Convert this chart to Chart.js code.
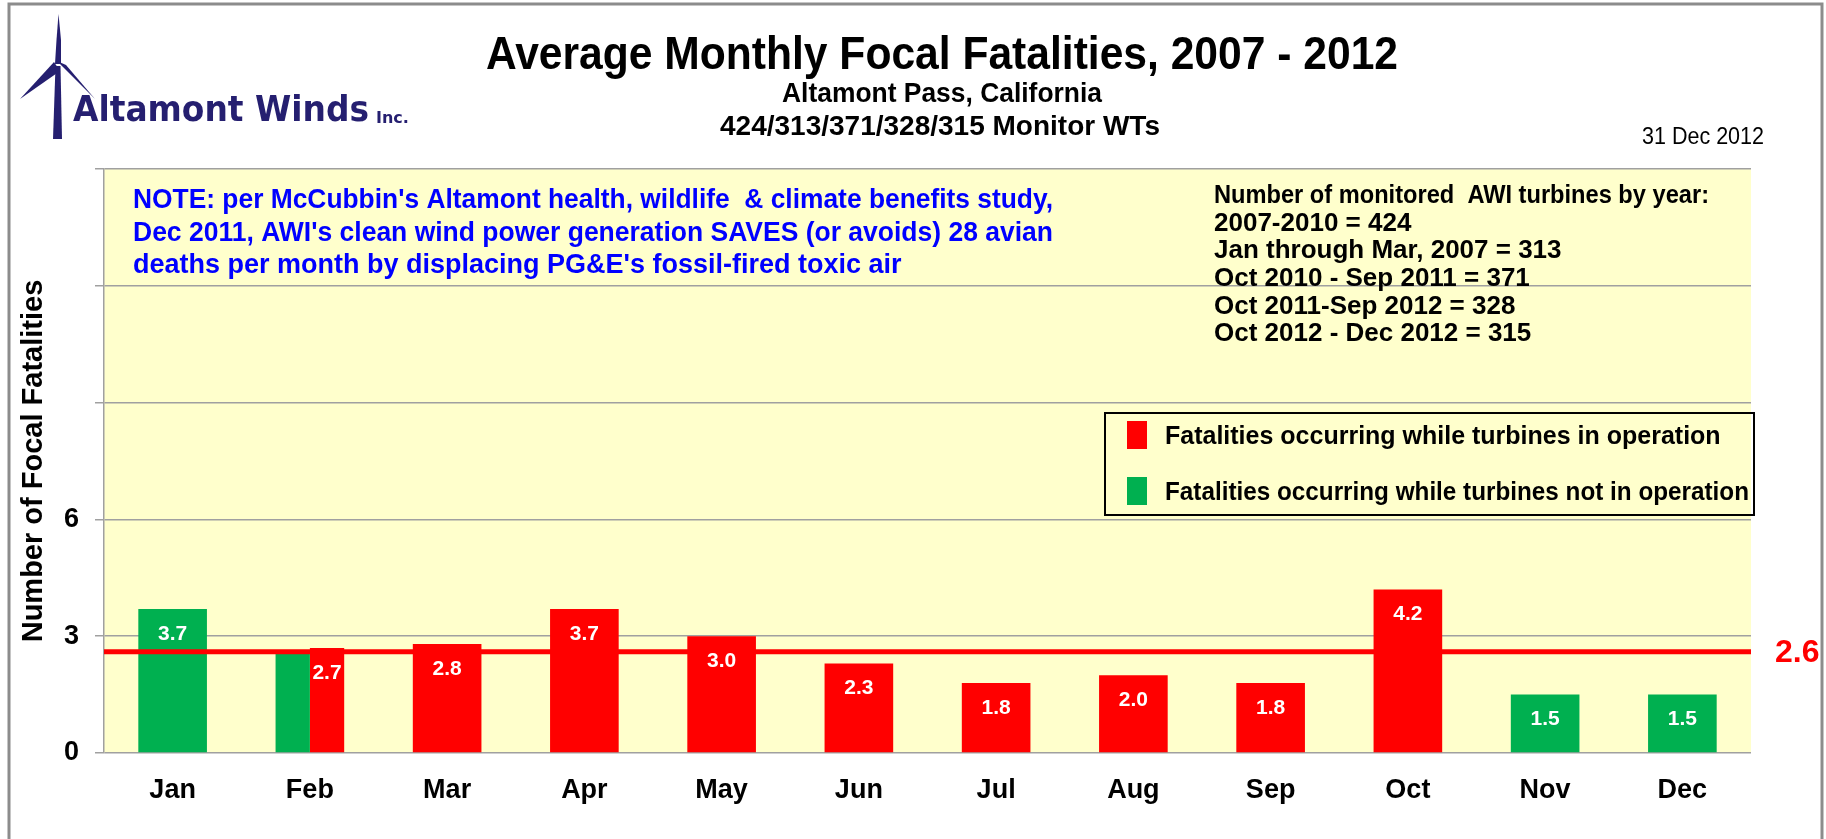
<!DOCTYPE html>
<html>
<head>
<meta charset="utf-8">
<title>Average Monthly Focal Fatalities, 2007 - 2012</title>
<script src="https://cdn.jsdelivr.net/npm/chart.js@4.4.0/dist/chart.umd.min.js"></script>
<style>
  html, body { margin: 0; padding: 0; background: #fff; }
  #wrap { width: 1826px; height: 839px; position: relative; }
</style>
</head>
<body>
<div id="wrap"><canvas id="chart"></canvas></div>
<script>
var months = ['Jan', 'Feb', 'Mar', 'Apr', 'May', 'Jun', 'Jul', 'Aug', 'Sep', 'Oct', 'Nov', 'Dec'];
var inOperation = [null, 2.7, 2.8, 3.7, 3.0, 2.3, 1.8, 2.0, 1.8, 4.2, null, null];
var notInOperation = [3.7, 2.6, null, null, null, null, null, null, null, null, 1.5, 1.5];
var averageFatalities = 2.6;
var yTickLabels = [0, 3, 6];

var titleText = 'Average Monthly Focal Fatalities, 2007 - 2012';
var subtitleLines = ['Altamont Pass, California', '424/313/371/328/315 Monitor WTs'];
var dateText = '31 Dec 2012';
var noteLines = [
    "NOTE: per McCubbin's Altamont health, wildlife  & climate benefits study,",
    "Dec 2011, AWI's clean wind power generation SAVES (or avoids) 28 avian",
    "deaths per month by displacing PG&E's fossil-fired toxic air"
];
var turbineLines = [
    'Number of monitored  AWI turbines by year:',
    '2007-2010 = 424',
    'Jan through Mar, 2007 = 313',
    'Oct 2010 - Sep 2011 = 371',
    'Oct 2011-Sep 2012 = 328',
    'Oct 2012 - Dec 2012 = 315'
];

var FONT = '"Liberation Sans", Arial, sans-serif';
var RED = '#FF0000';
var GREEN = '#00B050';
var NAVY = '#251F70';

function text(ctx, str, x, y, font, color, align, maxWidth) {
    ctx.font = font;
    ctx.fillStyle = color;
    ctx.textAlign = align || 'left';
    ctx.textBaseline = 'middle';
    if (maxWidth) ctx.fillText(str, x, y, maxWidth);
    else ctx.fillText(str, x, y);
}

function poly(ctx, pts) {
    ctx.beginPath();
    ctx.moveTo(pts[0][0], pts[0][1]);
    for (var i = 1; i < pts.length; i++) ctx.lineTo(pts[i][0], pts[i][1]);
    ctx.closePath();
    ctx.fill();
}

// yellow plot background
var plotBackground = {
    id: 'plotBackground',
    beforeDraw: function(chart) {
        var a = chart.chartArea, ctx = chart.ctx;
        ctx.save();
        ctx.fillStyle = '#FFFFCC';
        ctx.fillRect(a.left, a.top, a.right - a.left, a.bottom - a.top);
        ctx.restore();
    }
};

// average line + value labels inside the bars
var barExtras = {
    id: 'barExtras',
    afterDatasetsDraw: function(chart) {
        var ctx = chart.ctx, a = chart.chartArea;
        var y = chart.scales.y.getPixelForValue(averageFatalities);
        ctx.save();
        ctx.strokeStyle = RED;
        ctx.lineWidth = 5;
        ctx.beginPath();
        ctx.moveTo(a.left, y);
        ctx.lineTo(a.right, y);
        ctx.stroke();
        text(ctx, averageFatalities.toFixed(1), a.right + 24, y + 1, 'bold 32px ' + FONT, RED, 'left');

        chart.data.datasets.forEach(function(ds, di) {
            var meta = chart.getDatasetMeta(di);
            meta.data.forEach(function(bar, i) {
                var v = ds.data[i];
                if (v == null) return;
                // a split month only shows the total on its last bar
                var later = chart.data.datasets.some(function(o, oi) {
                    return oi > di && o.data[i] != null;
                });
                if (later) return;
                text(ctx, v.toFixed(1), bar.x, bar.y + 25, 'bold 21px ' + FONT, '#fff', 'center');
            });
        });
        ctx.restore();
    }
};

// header, logo, notes, legend and frame
var decorations = {
    id: 'decorations',
    afterDraw: function(chart) {
        var ctx = chart.ctx;
        ctx.save();

        // frame
        ctx.strokeStyle = '#8C8C8C';
        ctx.lineWidth = 3;
        ctx.beginPath();
        ctx.moveTo(9, 839); ctx.lineTo(9, 4); ctx.lineTo(1822, 4); ctx.lineTo(1822, 839);
        ctx.stroke();

        // logo
        ctx.fillStyle = NAVY;
        poly(ctx, [[58.5, 14], [61, 40], [61, 64], [55, 64], [56.5, 40]]);
        poly(ctx, [[54, 62], [60, 71], [20, 99]]);
        poly(ctx, [[57, 61], [66, 65], [95, 99]]);
        poly(ctx, [[55.5, 66], [60.5, 66], [62, 139], [53, 139]]);
        text(ctx, 'Altamont Winds', 73, 112, 'bold 35px "DejaVu Sans", sans-serif', NAVY, 'left', 296);
        text(ctx, 'Inc.', 376, 119, 'bold 16px "DejaVu Sans", sans-serif', NAVY, 'left');

        // titles
        text(ctx, titleText, 942, 56, 'bold 47px ' + FONT, '#000', 'center', 912);
        text(ctx, subtitleLines[0], 942, 94, 'bold 28px ' + FONT, '#000', 'center', 320);
        text(ctx, subtitleLines[1], 940, 127, 'bold 28px ' + FONT, '#000', 'center', 440);
        text(ctx, dateText, 1764, 138, '23px ' + FONT, '#000', 'right', 122);

        // notes inside the plot
        noteLines.forEach(function(s, i) {
            text(ctx, s, 133, 201 + i * 32.5, 'bold 27px ' + FONT, '#0000FF', 'left', 920);
        });
        turbineLines.forEach(function(s, i) {
            text(ctx, s, 1214, 196 + i * 27.6, 'bold 26px ' + FONT, '#000', 'left', 495);
        });

        // legend
        ctx.strokeStyle = '#000';
        ctx.lineWidth = 2;
        ctx.strokeRect(1105, 413, 649, 102);
        var items = chart.data.datasets.slice().reverse();
        items.forEach(function(ds, i) {
            var cy = 435 + i * 56;
            ctx.fillStyle = ds.backgroundColor;
            ctx.fillRect(1127, cy - 14, 20, 28);
            text(ctx, ds.label, 1165, cy + 2, 'bold 25px ' + FONT, '#000', 'left', 584);
        });

        ctx.restore();
    }
};

var ctx = document.getElementById('chart').getContext('2d');
var myChart = new Chart(ctx, {
    type: 'bar',
    data: {
        labels: months,
        datasets: [{
            label: 'Fatalities occurring while turbines not in operation',
            data: notInOperation,
            backgroundColor: GREEN
        }, {
            label: 'Fatalities occurring while turbines in operation',
            data: inOperation,
            backgroundColor: RED
        }]
    },
    options: {
        responsive: true,
        maintainAspectRatio: false,
        animation: false,
        layout: { padding: { top: 169, right: 75, bottom: 0, left: 0 } },
        datasets: {
            bar: {
                skipNull: true,
                categoryPercentage: 0.5,
                barPercentage: 1.0,
                borderWidth: 0
            }
        },
        plugins: {
            legend: { display: false },
            tooltip: { enabled: false }
        },
        scales: {
            x: {
                afterFit: function(scale) { scale.height = 86; },
                grid: { display: false },
                border: { display: false },
                ticks: {
                    autoSkip: false,
                    maxRotation: 0,
                    padding: 13,
                    color: '#000',
                    font: { family: FONT, size: 27, weight: 'bold' }
                }
            },
            y: {
                min: 0,
                max: 15,
                afterFit: function(scale) { scale.width = 104; },
                grid: { color: '#A0A0A0', lineWidth: 1.5, tickLength: 9, tickColor: '#A0A0A0' },
                border: { display: true, color: '#A0A0A0', width: 1.5 },
                ticks: {
                    stepSize: 3,
                    padding: 16,
                    color: '#000',
                    font: { family: FONT, size: 27, weight: 'bold' },
                    // only the lower ticks carry a label
                    callback: function(value) {
                        return yTickLabels.indexOf(value) >= 0 ? value : '';
                    }
                },
                title: {
                    display: true,
                    text: 'Number of Focal Fatalities',
                    color: '#000',
                    padding: { top: 17, bottom: 0 },
                    font: { family: FONT, size: 29, weight: 'bold' }
                }
            }
        }
    },
    plugins: [plotBackground, barExtras, decorations]
});
</script>
</body>
</html>
